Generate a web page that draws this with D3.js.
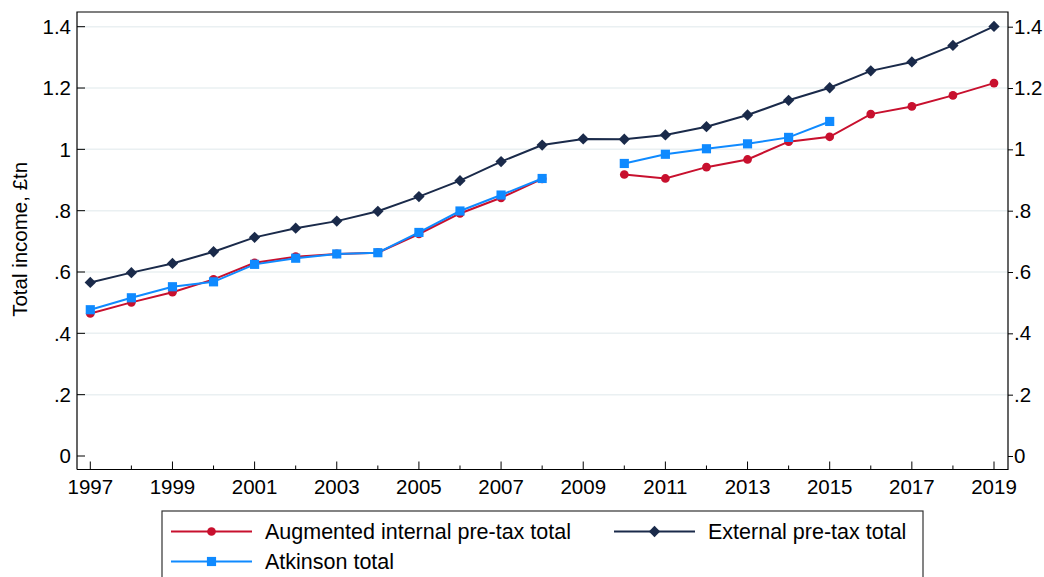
<!DOCTYPE html>
<html>
<head>
<meta charset="utf-8">
<script src="https://cdn.jsdelivr.net/npm/d3@7"></script>
<style>
  body { margin: 0; background: #fff; }
  text { font-family: "Liberation Sans", Arial, sans-serif; fill: #000; }
</style>
</head>
<body>
<script>
const years = d3.range(1997, 2020);
const augmented = [0.465, 0.501, 0.534, 0.576, 0.630, 0.650, 0.659, 0.663, 0.724, 0.791, 0.842, 0.904,
  null, 0.918, 0.905, 0.942, 0.967, 1.025, 1.041, 1.115, 1.140, 1.176, 1.216];
const external = [0.566, 0.598, 0.628, 0.666, 0.713, 0.743, 0.766, 0.798, 0.846, 0.898, 0.960, 1.014,
  1.034, 1.033, 1.047, 1.074, 1.112, 1.160, 1.201, 1.256, 1.285, 1.339, 1.401];
const atkinson = [0.477, 0.516, 0.552, 0.568, 0.625, 0.645, 0.659, 0.663, 0.729, 0.799, 0.851, 0.905,
  null, 0.954, 0.984, 1.002, 1.018, 1.039, 1.091, null, null, null, null];
const yTicks = [0, 0.2, 0.4, 0.6, 0.8, 1, 1.2, 1.4];
const xTicks = d3.range(1997, 2020, 2);

const W = 1044, H = 577;
const svg = d3.select("body").append("svg").attr("width", W).attr("height", H);

const x = d3.scaleLinear().domain([1997, 2019]).range([90.3, 994]);
const y = d3.scaleLinear().domain([0, 1.4]).range([456, 26.7]);
const pLeft = 77, pRight = 1008, pTop = 12, pBottom = 469.5;
const axisFont = 20.5;

// gridlines
svg.append("g").selectAll("line").data(yTicks.slice(1)).join("line")
  .attr("x1", pLeft).attr("x2", pRight)
  .attr("y1", d => y(d)).attr("y2", d => y(d))
  .attr("stroke", "#eaf0f2").attr("stroke-width", 1.5);

// frame
svg.append("path")
  .attr("d", `M${pLeft},${pBottom}V${pTop}H${pRight}V${pBottom}H${pLeft}`)
  .attr("fill", "none").attr("stroke", "#000").attr("stroke-width", 1.2);

// y axes: left ticks point inward, right ones outward
const fmt = d => d === 0 ? "0" : d3.format(".1f")(d).replace(/^0/, "").replace(/\.0$/, "");
const yl = svg.append("g").attr("transform", `translate(${pLeft},0)`);
yl.selectAll("line").data(yTicks).join("line")
  .attr("x1", 0).attr("x2", 8).attr("y1", d => y(d)).attr("y2", d => y(d))
  .attr("stroke", "#000");
yl.selectAll("text").data(yTicks).join("text")
  .attr("x", -6).attr("y", d => y(d)).attr("dy", "0.35em")
  .attr("text-anchor", "end").attr("font-size", axisFont).text(fmt);
svg.append("g").attr("transform", `translate(${pRight},0)`)
  .call(d3.axisRight(y).tickValues(yTicks).tickFormat(fmt).tickSize(5).tickPadding(1))
  .call(g => g.select(".domain").remove())
  .call(g => g.selectAll("text").attr("font-size", axisFont).attr("font-family", null));

// x axis: ticks point up into the plot
const xg = svg.append("g").attr("transform", `translate(0,${pBottom})`);
xg.selectAll("line.minor").data(years.filter(d => (d - 1997) % 2)).join("line")
  .attr("class", "minor")
  .attr("x1", d => x(d)).attr("x2", d => x(d)).attr("y1", 0).attr("y2", -4)
  .attr("stroke", "#000");
xg.selectAll("line.major").data(xTicks).join("line")
  .attr("class", "major")
  .attr("x1", d => x(d)).attr("x2", d => x(d)).attr("y1", 0).attr("y2", -8)
  .attr("stroke", "#000");
xg.selectAll("text").data(xTicks).join("text")
  .attr("x", d => x(d)).attr("y", 24).attr("text-anchor", "middle")
  .attr("font-size", axisFont).text(d => d);

svg.append("text")
  .attr("transform", `translate(27,${y(0.7) - 2}) rotate(-90)`)
  .attr("text-anchor", "middle").attr("font-size", 20.5)
  .text("Total income, £tn");

// diamond as a rotated square so it is not elongated
const diamond = { draw(ctx, size) { const r = Math.sqrt(size / 2); ctx.moveTo(0, -r); ctx.lineTo(r, 0); ctx.lineTo(0, r); ctx.lineTo(-r, 0); ctx.closePath(); } };

const series = [
  { name: "Augmented internal pre-tax total", vals: augmented, color: "#c8102e", shape: d3.symbolCircle, size: 60 },
  { name: "External pre-tax total", vals: external, color: "#1a2a4a", shape: diamond, size: 64 },
  { name: "Atkinson total", vals: atkinson, color: "#0f8aff", shape: d3.symbolSquare, size: 84 }
];

const line = d3.line().defined(d => d.v != null).x(d => x(d.yr)).y(d => y(d.v));
series.forEach(s => {
  const pts = years.map((yr, i) => ({ yr, v: s.vals[i] }));
  svg.append("path").datum(pts).attr("d", line)
    .attr("fill", "none").attr("stroke", s.color).attr("stroke-width", 2);
  svg.append("g").selectAll("path").data(pts.filter(d => d.v != null)).join("path")
    .attr("transform", d => `translate(${x(d.yr)},${y(d.v)})`)
    .attr("d", d3.symbol().type(s.shape).size(s.size))
    .attr("fill", s.color);
});

// legend
const lg = svg.append("g");
lg.append("rect").attr("x", 162).attr("y", 511).attr("width", 761).attr("height", 80)
  .attr("fill", "#fff").attr("stroke", "#333").attr("stroke-width", 1.2);
const legPos = [[171, 531.5], [614, 531.5], [171, 561.5]];
series.forEach((s, i) => {
  const [lx, ly] = legPos[i];
  lg.append("line").attr("x1", lx).attr("x2", lx + 81).attr("y1", ly).attr("y2", ly)
    .attr("stroke", s.color).attr("stroke-width", 2);
  lg.append("path").attr("transform", `translate(${lx + 40.5},${ly})`)
    .attr("d", d3.symbol().type(s.shape).size(s.size)).attr("fill", s.color);
  lg.append("text").attr("x", lx + 94).attr("y", ly).attr("dy", "0.35em")
    .attr("font-size", 21.5).text(s.name);
});
</script>
</body>
</html>
